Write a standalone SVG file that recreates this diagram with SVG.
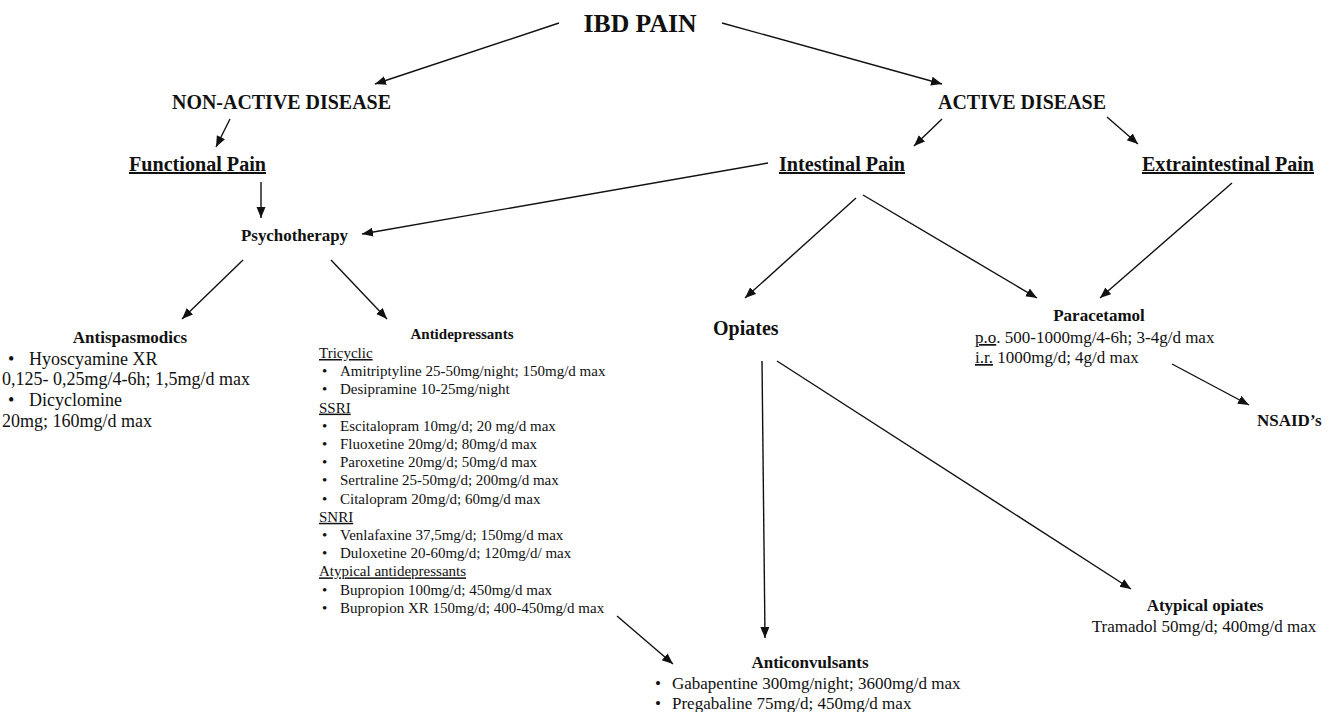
<svg xmlns="http://www.w3.org/2000/svg" width="1336" height="712" viewBox="0 0 1336 712">
<style>
text{font-family:'Liberation Serif','Times New Roman','DejaVu Serif',serif;fill:#111}
.h{font-weight:bold}
.t26{font-size:26px}
.t20{font-size:20px}
.t18{font-size:18px}
.t17{font-size:17px}
.t15{font-size:15px}
.u{text-decoration:underline}
.c{text-anchor:middle}
#edges line{stroke:#111;stroke-width:1.4;marker-end:url(#ah)}
</style>
<defs>
<marker id="ah" markerUnits="userSpaceOnUse" markerWidth="12" markerHeight="10" refX="11" refY="4.5" orient="auto"><path d="M0,0 L11,4.5 L0,9 z" fill="#111"/></marker>
</defs>
<rect width="1336" height="712" fill="#fff"/>
<g id="edges">
<line x1="559" y1="23" x2="375" y2="84"/>
<line x1="722" y1="23" x2="942" y2="84"/>
<line x1="230" y1="119" x2="216" y2="147"/>
<line x1="942" y1="119" x2="914" y2="146"/>
<line x1="1107" y1="117" x2="1138" y2="144"/>
<line x1="261" y1="182" x2="261" y2="218"/>
<line x1="768" y1="163" x2="362" y2="234"/>
<line x1="243" y1="260" x2="182" y2="319"/>
<line x1="331" y1="260" x2="387" y2="319"/>
<line x1="856" y1="198" x2="745" y2="298"/>
<line x1="863" y1="195" x2="1037" y2="298"/>
<line x1="1232" y1="183" x2="1100" y2="298"/>
<line x1="1172" y1="364" x2="1249" y2="405"/>
<line x1="762" y1="361" x2="765" y2="638"/>
<line x1="777" y1="361" x2="1131" y2="589"/>
<line x1="617" y1="616" x2="673" y2="664"/>
</g>
<g font-family="Liberation Serif, serif">
<g id="ibd-pain"><text class="h t26 c" x="640" y="32" textLength="113" lengthAdjust="spacingAndGlyphs">IBD PAIN</text></g>
<g id="non-active"><text class="h t20 c" x="281.5" y="109" textLength="219" lengthAdjust="spacingAndGlyphs">NON-ACTIVE DISEASE</text></g>
<g id="active"><text class="h t20 c" x="1022" y="109" textLength="168" lengthAdjust="spacingAndGlyphs">ACTIVE DISEASE</text></g>
<g id="functional-pain"><text class="h t20 u" x="129" y="171" textLength="137" lengthAdjust="spacingAndGlyphs">Functional Pain</text></g>
<g id="intestinal-pain"><text class="h t20 u" x="779" y="171" textLength="126" lengthAdjust="spacingAndGlyphs">Intestinal Pain</text></g>
<g id="extraintestinal-pain"><text class="h t20 u" x="1142" y="171" textLength="172" lengthAdjust="spacingAndGlyphs">Extraintestinal Pain</text></g>
<g id="psychotherapy"><text class="h t17" x="241" y="241" textLength="107" lengthAdjust="spacingAndGlyphs">Psychotherapy</text></g>
<g id="antispasmodics">
<text class="h t17 c" x="130" y="343">Antispasmodics</text>
<text class="t18" x="8" y="365">•</text><text class="t18" x="29" y="365">Hyoscyamine XR</text>
<text class="t18" x="2" y="385">0,125- 0,25mg/4-6h; 1,5mg/d max</text>
<text class="t18" x="8" y="406">•</text><text class="t18" x="29" y="406">Dicyclomine</text>
<text class="t18" x="2" y="427">20mg; 160mg/d max</text>
</g>
<g id="antidepressants">
<text class="h t15 c" x="462" y="339">Antidepressants</text>
<text class="t15 u" x="319" y="358">Tricyclic</text>
<text class="t15" x="322" y="376.2">•</text><text class="t15" x="340" y="376.2">Amitriptyline 25-50mg/night; 150mg/d max</text>
<text class="t15" x="322" y="394.4">•</text><text class="t15" x="340" y="394.4">Desipramine 10-25mg/night</text>
<text class="t15 u" x="319" y="412.6">SSRI</text>
<text class="t15" x="322" y="430.8">•</text><text class="t15" x="340" y="430.8">Escitalopram 10mg/d; 20 mg/d max</text>
<text class="t15" x="322" y="449">•</text><text class="t15" x="340" y="449">Fluoxetine 20mg/d; 80mg/d max</text>
<text class="t15" x="322" y="467.2">•</text><text class="t15" x="340" y="467.2">Paroxetine 20mg/d; 50mg/d max</text>
<text class="t15" x="322" y="485.4">•</text><text class="t15" x="340" y="485.4">Sertraline 25-50mg/d; 200mg/d max</text>
<text class="t15" x="322" y="503.6">•</text><text class="t15" x="340" y="503.6">Citalopram 20mg/d; 60mg/d max</text>
<text class="t15 u" x="319" y="521.8">SNRI</text>
<text class="t15" x="322" y="540">•</text><text class="t15" x="340" y="540">Venlafaxine 37,5mg/d; 150mg/d max</text>
<text class="t15" x="322" y="558.2">•</text><text class="t15" x="340" y="558.2">Duloxetine 20-60mg/d; 120mg/d/ max</text>
<text class="t15 u" x="319" y="576.4">Atypical antidepressants</text>
<text class="t15" x="322" y="594.6">•</text><text class="t15" x="340" y="594.6">Bupropion 100mg/d; 450mg/d max</text>
<text class="t15" x="322" y="612.8">•</text><text class="t15" x="340" y="612.8">Bupropion XR 150mg/d; 400-450mg/d max</text>
</g>
<g id="opiates"><text class="h t20" x="713" y="335">Opiates</text></g>
<g id="paracetamol">
<text class="h t17 c" x="1099" y="321">Paracetamol</text>
<text class="t17" x="975" y="343"><tspan class="u">p.o</tspan>. 500-1000mg/4-6h; 3-4g/d max</text>
<text class="t17" x="975" y="363"><tspan class="u">i.r.</tspan> 1000mg/d; 4g/d max</text>
</g>
<g id="nsaids"><text class="h t17" x="1257" y="426">NSAID’s</text></g>
<g id="atypical-opiates">
<text class="h t17 c" x="1205" y="611">Atypical opiates</text>
<text class="t17 c" x="1204" y="632">Tramadol 50mg/d; 400mg/d max</text>
</g>
<g id="anticonvulsants">
<text class="h t17 c" x="810" y="668">Anticonvulsants</text>
<text class="t17" x="655" y="689">•</text><text class="t17" x="672" y="689">Gabapentine 300mg/night; 3600mg/d max</text>
<text class="t17" x="655" y="709">•</text><text class="t17" x="672" y="709">Pregabaline 75mg/d; 450mg/d max</text>
</g>
</g>
</svg>
